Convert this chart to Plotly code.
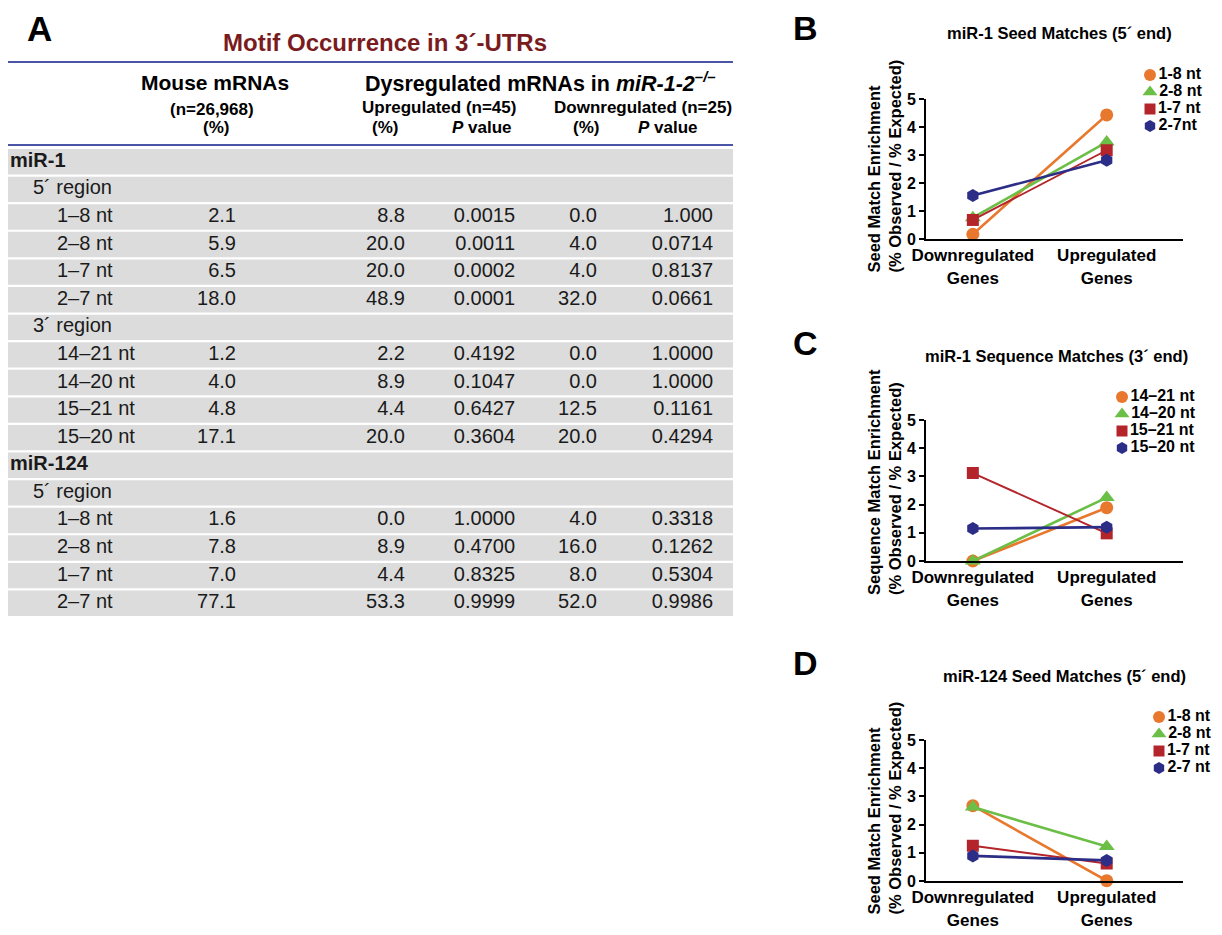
import plotly.graph_objects as go

# The page body adds an 8 px margin, so the figure is sized to fill the rest of the window
OFF = 8
W, H = 1222 - OFF, 935 - OFF
FONT = "Liberation Sans, Arial, Helvetica, sans-serif"

# ---------------- Table data (panel A) ----------------
row_labels = ["miR-1", "5´ region", "1–8 nt", "2–8 nt", "1–7 nt", "2–7 nt",
              "3´ region", "14–21 nt", "14–20 nt", "15–21 nt", "15–20 nt",
              "miR-124", "5´ region", "1–8 nt", "2–8 nt", "1–7 nt", "2–7 nt"]
row_levels = [0, 1, 2, 2, 2, 2, 1, 2, 2, 2, 2, 0, 1, 2, 2, 2, 2]
mouse_pct = ["", "", "2.1", "5.9", "6.5", "18.0", "", "1.2", "4.0", "4.8", "17.1",
             "", "", "1.6", "7.8", "7.0", "77.1"]
up_pct = ["", "", "8.8", "20.0", "20.0", "48.9", "", "2.2", "8.9", "4.4", "20.0",
          "", "", "0.0", "8.9", "4.4", "53.3"]
up_p = ["", "", "0.0015", "0.0011", "0.0002", "0.0001", "", "0.4192", "0.1047", "0.6427", "0.3604",
        "", "", "1.0000", "0.4700", "0.8325", "0.9999"]
down_pct = ["", "", "0.0", "4.0", "4.0", "32.0", "", "0.0", "0.0", "12.5", "20.0",
            "", "", "4.0", "16.0", "8.0", "52.0"]
down_p = ["", "", "1.000", "0.0714", "0.8137", "0.0661", "", "1.0000", "1.0000", "0.1161", "0.4294",
          "", "", "0.3318", "0.1262", "0.5304", "0.9986"]

# ---------------- Line chart data (panels B, C, D) ----------------
groups = ["Downregulated<br>Genes", "Upregulated<br>Genes"]

B_names = ["1-8 nt", "2-8 nt", "1-7 nt", "2-7nt"]
B_down = [0.17, 0.76, 0.68, 1.55]
B_up = [4.43, 3.46, 3.17, 2.81]

C_names = ["14–21 nt", "14–20 nt", "15–21 nt", "15–20 nt"]
C_down = [0.0, 0.0, 3.12, 1.15]
C_up = [1.89, 2.25, 0.98, 1.20]

D_names = ["1-8 nt", "2-8 nt", "1-7 nt", "2-7 nt"]
D_down = [2.67, 2.62, 1.25, 0.89]
D_up = [0.01, 1.22, 0.62, 0.73]

series_colors = ["#E8782E", "#6BBE46", "#B3242B", "#2B2D86"]
series_symbols = ["circle", "triangle-up", "square", "hexagon"]
series_sizes = [13, 14, 12, 13]
series_widths = [2.6, 2.6, 1.9, 2.6]


def px(x):
    return (x - OFF) / W


def py(y):
    return 1 - (y - OFF) / H


fig = go.Figure()
layout = dict(
    width=W, height=H, margin=dict(l=0, r=0, t=0, b=0, pad=0, autoexpand=False),
    paper_bgcolor="white", plot_bgcolor="rgba(0,0,0,0)",
    showlegend=False, font=dict(family=FONT, color="black"),
)
annotations = []
shapes = []

# ---------------- Table ----------------
n_rows = len(row_labels)
tab_left, tab_right, tab_top, tab_bot = 8, 733, 148, 617
tab_w = tab_right - tab_left
layout["xaxis4"] = dict(domain=[px(tab_left), px(tab_right)], range=[0, tab_w],
                        visible=False, fixedrange=True, anchor="y4")
layout["yaxis4"] = dict(domain=[py(tab_bot), py(tab_top)], range=[n_rows - 0.5, -0.5],
                        visible=False, fixedrange=True, anchor="x4")
rows = list(range(n_rows))
fig.add_trace(go.Bar(x=[tab_w] * n_rows, y=rows, base=0, orientation="h", width=0.92,
                     marker=dict(color="#DCDCDC", line=dict(width=0)),
                     xaxis="x4", yaxis="y4", hoverinfo="skip"))
indent = {0: 2, 1: 25, 2: 49}
label_text = [f"<b>{t}</b>" if lv == 0 else t for t, lv in zip(row_labels, row_levels)]
fig.add_trace(go.Scatter(x=[indent[lv] for lv in row_levels], y=rows, mode="text",
                         text=label_text, textposition="middle right",
                         textfont=dict(size=20, color="#1a1a1a", family=FONT),
                         xaxis="x4", yaxis="y4", hoverinfo="skip", cliponaxis=False))
col_right = [228, 397, 507, 589, 705]
for col, xr in zip([mouse_pct, up_pct, up_p, down_pct, down_p], col_right):
    fig.add_trace(go.Scatter(x=[xr] * n_rows, y=rows, mode="text", text=col,
                             textposition="middle left",
                             textfont=dict(size=20, color="#1a1a1a", family=FONT),
                             xaxis="x4", yaxis="y4", hoverinfo="skip", cliponaxis=False))

# Table header
for yy in (62, 145):
    shapes.append(dict(type="line", xref="paper", yref="paper", x0=px(tab_left), x1=px(tab_right),
                       y0=py(yy), y1=py(yy), line=dict(color="#4A55A8", width=2)))


def ann(text, x, y, size, bold=True, color="black", xanchor="center", yanchor="middle", **kw):
    d = dict(text=text, x=px(x), y=py(y), xref="paper", yref="paper", showarrow=False,
             xanchor=xanchor, yanchor=yanchor,
             font=dict(size=size, color=color, family=FONT, weight="bold" if bold else "normal"))
    d.update(kw)
    annotations.append(d)


ann("A", 26, OFF, 35, xanchor="left", yanchor="top", borderpad=0)
ann("Motif Occurrence in 3´-UTRs", 385, 43, 24, color="#7A1C1E")
ann("Mouse mRNAs", 215, 82, 21)
ann("(n=26,968)", 212, 109, 17)
ann("(%)", 216, 127, 17)
ann("Dysregulated mRNAs in <i>miR-1-2</i><sup><i>–/–</i></sup>", 540, 82, 21.5)
ann("Upregulated (n=45)", 439, 108, 17)
ann("(%)", 385, 127, 17)
ann("<i>P</i> value", 482, 127, 17)
ann("Downregulated (n=25)", 643, 108, 17)
ann("(%)", 586, 127, 17)
ann("<i>P</i> value", 668, 127, 17)

# ---------------- Line panels ----------------
panels = [
    dict(letter="B", names=B_names, down=B_down, up=B_up, y0=239, y5=99,
         title="miR-1 Seed Matches (5´ end)", title_x=1059, title_y=33, letter_y=None,
         ytitle="Seed Match Enrichment<br>(% Observed / % Expected)", ytitle_bottom=275,
         leg_x=1150, leg_top=75),
    dict(letter="C", names=C_names, down=C_down, up=C_up, y0=561, y5=420,
         title="miR-1 Sequence Matches (3´ end)", title_x=1056, title_y=356, letter_y=343,
         ytitle="Sequence Match Enrichment<br>(% Observed / % Expected)", ytitle_bottom=597,
         leg_x=1122, leg_top=397),
    dict(letter="D", names=D_names, down=D_down, up=D_up, y0=881, y5=740,
         title="miR-124 Seed Matches (5´ end)", title_x=1064, title_y=676, letter_y=663,
         ytitle="Seed Match Enrichment<br>(% Observed / % Expected)", ytitle_bottom=917,
         leg_x=1159, leg_top=717),
]

leg_pitch = 17
for i, p in enumerate(panels):
    k = "" if i == 0 else str(i + 1)
    xname, yname = "x" + k, "y" + k
    layout["xaxis" + k] = dict(
        domain=[px(926), px(1183)], type="category", categoryorder="array", categoryarray=groups,
        range=[-0.35, 1.57], showline=True, linecolor="black", linewidth=2, ticks="",
        showgrid=False, zeroline=False, fixedrange=True, anchor=yname,
        tickfont=dict(size=17, color="black", family=FONT, weight="bold"))
    layout["yaxis" + k] = dict(
        domain=[py(p["y0"]), py(p["y5"])], range=[0, 5], tickvals=[0, 1, 2, 3, 4, 5],
        showline=True, linecolor="black", linewidth=2, ticks="outside", ticklen=5,
        tickwidth=2, tickcolor="black", showgrid=False, zeroline=False, fixedrange=True,
        anchor=xname, tickfont=dict(size=16, color="black", family=FONT, weight="bold"))
    for j, name in enumerate(p["names"]):
        fig.add_trace(go.Scatter(
            x=groups, y=[p["down"][j], p["up"][j]], mode="lines+markers", name=name,
            line=dict(color=series_colors[j], width=series_widths[j]),
            marker=dict(symbol=series_symbols[j], size=series_sizes[j], color=series_colors[j],
                        opacity=1, line=dict(width=0)),
            xaxis=xname, yaxis=yname, cliponaxis=False, hoverinfo="skip"))

    # legend drawn on its own small hidden axes
    lk = str(5 + i)
    n = len(p["names"])
    top = p["leg_top"] - leg_pitch / 2
    bot = p["leg_top"] + leg_pitch * (n - 1) + leg_pitch / 2
    layout["xaxis" + lk] = dict(domain=[px(p["leg_x"] - 10), px(p["leg_x"] + 10)], range=[-1, 1],
                                visible=False, fixedrange=True, anchor="y" + lk)
    layout["yaxis" + lk] = dict(domain=[py(bot), py(top)], type="category", categoryorder="array",
                                categoryarray=p["names"], range=[n - 0.5, -0.5],
                                visible=False, fixedrange=True, anchor="x" + lk)
    fig.add_trace(go.Scatter(
        x=[0] * n, y=p["names"], mode="markers+text", text=p["names"], textposition="middle right",
        textfont=dict(size=16, color="black", family=FONT, weight="bold"),
        marker=dict(symbol=series_symbols[:n], size=[s - 1 for s in series_sizes[:n]],
                    color=series_colors[:n], opacity=1, line=dict(width=0)),
        xaxis="x" + lk, yaxis="y" + lk, cliponaxis=False, hoverinfo="skip"))

    if p["letter_y"] is None:
        ann(p["letter"], 805, OFF, 34, yanchor="top", borderpad=0)
    else:
        ann(p["letter"], 805, p["letter_y"], 34)
    ann(p["title"], p["title_x"], p["title_y"], 16.5)
    ann(p["ytitle"], 884, p["ytitle_bottom"], 16.5, yanchor="bottom", textangle=-90, align="left")

layout["annotations"] = annotations
layout["shapes"] = shapes
fig.update_layout(**layout)
fig.write_html("out.html")
